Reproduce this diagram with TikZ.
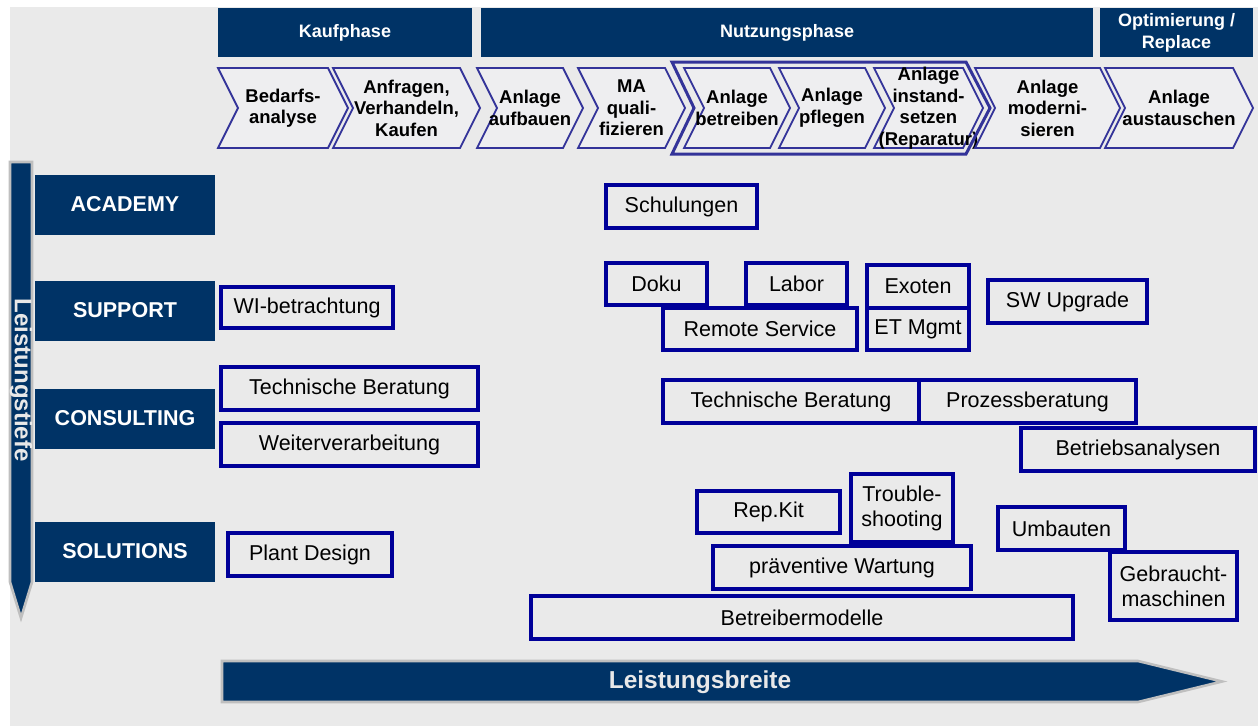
\documentclass[tikz,border=0pt]{standalone}
\usepackage{fontspec}
\setmainfont{Liberation Sans}
\definecolor{hdblue}{HTML}{003366}
\definecolor{itemblue}{HTML}{000099}
\definecolor{stepblue}{HTML}{333399}
\definecolor{bggray}{HTML}{EAEAEA}
\definecolor{stepfill}{HTML}{EEEEF0}
\definecolor{rimgray}{HTML}{BFBFBF}
\definecolor{axistext}{HTML}{E8E8E8}

% one chevron of the process row: left x, tip x, name, text
\newcommand{\phasestep}[4]{%
  \draw[stepline] (#1,68) -- ({#2-20},68) -- (#2,108) -- ({#2-20},148) -- (#1,148) -- ({#1+20},108) -- cycle;
  \node[steptext] (#3) at ({(#1+#2)/2},108) {#4};
}

\begin{document}
\begin{tikzpicture}[x=1pt, y=-1pt,
  phase/.style={fill=hdblue, text=white, font=\bfseries\fontsize{18}{22}\selectfont, align=center, inner sep=0pt, minimum height=49pt},
  level/.style={fill=hdblue, text=white, font=\bfseries\fontsize{21.5}{24}\selectfont, inner sep=0pt, minimum width=180pt, minimum height=60pt},
  stepline/.style={draw=stepblue, line width=1.8pt, fill=stepfill, line join=miter},
  steptext/.style={font=\bfseries\fontsize{18.5}{21.5}\selectfont, align=center, inner sep=0pt},
  item/.style={draw=itemblue, line width=3.2pt, fill=bggray, font=\fontsize{21.5}{25}\selectfont, align=center, inner sep=0pt},
  axis/.style={fill=hdblue, draw=rimgray, line width=2.6pt, line join=miter}]
\useasboundingbox (0,0) rectangle (1258,726);
\fill[white] (0,0) rectangle (1258,726);
\fill[bggray] (10,7) rectangle (1258,726);

% phases
\node[phase, minimum width=254pt] (kauf) at (345,32.5) {Kaufphase};
\node[phase, minimum width=612pt] (nutz) at (787,32.5) {Nutzungsphase};
\node[phase, minimum width=153pt] (opt) at (1176.5,32.5) {Optimierung /\\Replace};

% process steps
\phasestep{218}{348}{st1}{Bedarfs-\\analyse}
\phasestep{333}{480}{st2}{Anfragen,\\Verhandeln,\\Kaufen}
\phasestep{477}{583}{st3}{Anlage\\aufbauen}
\phasestep{578}{685}{st4}{MA\\quali-\\fizieren}
\phasestep{684}{790}{st5}{Anlage\\betreiben}
\phasestep{779}{885}{st6}{Anlage\\pflegen}
\phasestep{874}{983}{st7}{Anlage\\instand-\\setzen\\(Reparatur)}
\phasestep{975}{1120}{st8}{Anlage\\moderni-\\sieren}
\phasestep{1105}{1253}{st9}{Anlage\\austauschen}
\draw[draw=stepblue, line width=3pt, line join=miter] (672,62) -- (966,62) -- (990,108) -- (966,154) -- (672,154) -- (694,108) -- cycle;

% levels
\node[level] (acad) at (125,204.5) {ACADEMY};
\node[level] (supp) at (125,310.5) {SUPPORT};
\node[level] (cons) at (125,418.5) {CONSULTING};
\node[level] (solu) at (125,551.5) {SOLUTIONS};

% axes
\draw[axis] (10,162) -- (32,162) -- (32,582) -- (21,618) -- (10,582) -- cycle;
\node[text=axistext, font=\bfseries\fontsize{24}{28}\selectfont, rotate=-90] (tiefe) at (21,380) {Leistungstiefe};
\draw[axis] (222,661) -- (1138,661) -- (1222,681.5) -- (1138,702) -- (222,702) -- cycle;
\node[text=axistext, font=\bfseries\fontsize{24.5}{28}\selectfont] (breite) at (700,682) {Leistungsbreite};

% offerings
\node[item, minimum width=172pt, minimum height=41pt] (wib) at (307,307.5) {WI-betrachtung};
\node[item, minimum width=257pt, minimum height=43pt] (tbl) at (349.5,388.5) {Technische Beratung};
\node[item, minimum width=257pt, minimum height=43pt] (wv) at (349.5,444.5) {Weiterverarbeitung};
\node[item, minimum width=164pt, minimum height=43pt] (pd) at (310,554.5) {Plant Design};
\node[item, minimum width=151pt, minimum height=43pt] (sch) at (681.5,206.5) {Schulungen};
\node[item, minimum width=101pt, minimum height=42pt] (doku) at (656.5,284) {Doku};
\node[item, minimum width=101pt, minimum height=42pt] (labor) at (796.5,284) {Labor};
\node[item, minimum width=194pt, minimum height=42pt] (rs) at (760,329) {Remote Service};
\node[item, minimum width=102pt, minimum height=43pt] (exo) at (918,286.5) {Exoten};
\node[item, minimum width=102pt, minimum height=42pt] (etm) at (918,329) {ET Mgmt};
\node[item, minimum width=159pt, minimum height=43pt] (swu) at (1067.5,301.5) {SW Upgrade};
\node[item, minimum width=256pt, minimum height=43pt] (tbr) at (791,401.5) {Technische Beratung};
\node[item, minimum width=217pt, minimum height=43pt] (pzb) at (1027.5,401.5) {Prozessberatung};
\node[item, minimum width=234pt, minimum height=43pt] (ba) at (1138,449.5) {Betriebsanalysen};
\node[item, minimum width=143pt, minimum height=42pt] (rk) at (768.5,512) {Rep.Kit};
\node[item, minimum width=102pt, minimum height=68pt] (ts) at (902,508) {Trouble-\\shooting};
\node[item, minimum width=258pt, minimum height=43pt] (pw) at (842,567.5) {präventive Wartung};
\node[item, minimum width=127pt, minimum height=43pt] (umb) at (1061.5,528.5) {Umbauten};
\node[item, minimum width=127pt, minimum height=68pt] (gm) at (1173.5,586) {Gebraucht-\\maschinen};
\node[item, minimum width=542pt, minimum height=43pt] (bm) at (802,617.5) {Betreibermodelle};
\end{tikzpicture}
\end{document}
